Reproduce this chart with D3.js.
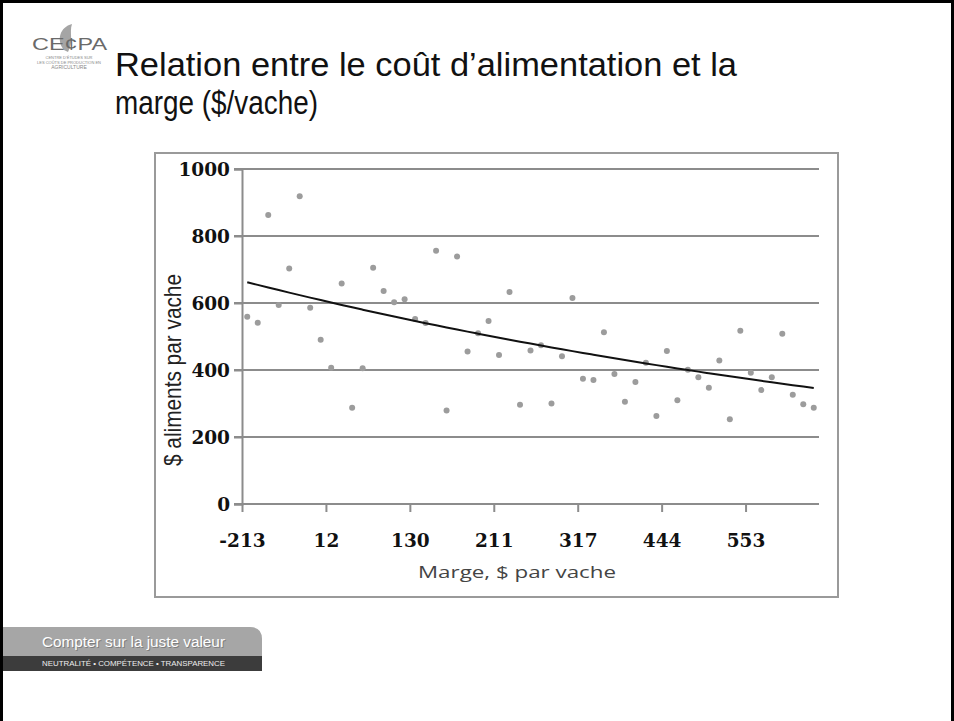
<!DOCTYPE html>
<html>
<head>
<meta charset="utf-8">
<script src="https://cdn.jsdelivr.net/npm/d3@7"></script>
<style>
  body { margin: 0; background: #fff; }
  svg { display: block; }
</style>
</head>
<body>
<svg id="slide" width="954" height="721"></svg>
<script>
// coût d'alimentation ($ par vache), une valeur par catégorie de marge (triée)
const coutAliments = [
  559, 541, 863, 594, 703, 919, 586, 490, 407, 658,
  287, 405, 705, 636, 602, 611, 552, 540, 756, 279,
  739, 455, 510, 546, 445, 633, 296, 458, 474, 300,
  441, 615, 374, 370, 513, 388, 305, 364, 422, 263,
  457, 310, 401, 378, 347, 428, 253, 517, 392, 340,
  378, 508, 326, 298, 287
];
// étiquettes affichées sur l'axe des marges et leur rang de catégorie
const margeLabels = ["-213", "12", "130", "211", "317", "444", "553"];
const margeLabelIndex = [0, 8, 16, 24, 32, 40, 48];
const yTicks = [0, 200, 400, 600, 800, 1000];
// courbe de tendance exponentielle : y = a * exp(b * rang)
const tendanceA = 662;
const tendanceB = -0.0120;

const svg = d3.select("#slide");

// cadre de la diapositive
svg.append("rect").attr("x", 0).attr("y", 0).attr("width", 954).attr("height", 3).attr("fill", "#000");
svg.append("rect").attr("x", 0).attr("y", 0).attr("width", 3).attr("height", 721).attr("fill", "#000");
svg.append("rect").attr("x", 951).attr("y", 0).attr("width", 3).attr("height", 721).attr("fill", "#000");

// logo
const logo = svg.append("g");
logo.append("path")
  .attr("d", "M64,50 C56,40 60,27 72,24 C69,33 74,40 68,52 Z")
  .attr("fill", "#a5a5a5");
logo.append("text").attr("x", 32).attr("y", 50)
  .attr("font-family", "'Liberation Sans', Arial, sans-serif")
  .attr("font-size", 16).attr("fill", "#6a6a6a")
  .attr("textLength", 75).attr("lengthAdjust", "spacingAndGlyphs")
  .text("CE¢PA");
["CENTRE D'ÉTUDES SUR", "LES COÛTS DE PRODUCTION EN", "AGRICULTURE"].forEach((t, i) => {
  logo.append("text").attr("x", 69).attr("y", 59 + i * 5)
    .attr("text-anchor", "middle")
    .attr("font-family", "'Liberation Sans', Arial, sans-serif")
    .attr("font-size", i === 2 ? 5 : 4).attr("fill", "#888")
    .text(t);
});

// titre
const titleFont = "'Liberation Sans Narrow', 'Liberation Sans', Arial, sans-serif";
svg.append("text").attr("x", 115).attr("y", 76)
  .attr("font-family", titleFont).attr("font-size", 33).attr("fill", "#111")
  .attr("textLength", 622).attr("lengthAdjust", "spacingAndGlyphs")
  .text("Relation entre le coût d’alimentation et la");
svg.append("text").attr("x", 115).attr("y", 114)
  .attr("font-family", titleFont).attr("font-size", 33).attr("fill", "#111")
  .attr("textLength", 203).attr("lengthAdjust", "spacingAndGlyphs")
  .text("marge ($/vache)");

// zone du graphique
svg.append("rect").attr("x", 155).attr("y", 153).attr("width", 683).attr("height", 444)
  .attr("fill", "#fff").attr("stroke", "#9a9a9a").attr("stroke-width", 2);

const plotLeft = 242, plotRight = 819, plotTop = 169, plotBottom = 504;
const n = coutAliments.length;
const x = d3.scaleLinear().domain([0, n]).range([plotLeft, plotRight]);
const y = d3.scaleLinear().domain([0, 1000]).range([plotBottom, plotTop]);

const g = svg.append("g");

// quadrillage horizontal
g.selectAll("line.grid").data(yTicks.filter(d => d > 0)).enter().append("line")
  .attr("class", "grid")
  .attr("x1", plotLeft - 8).attr("x2", plotRight)
  .attr("y1", d => y(d)).attr("y2", d => y(d))
  .attr("stroke", "#8c8c8c").attr("stroke-width", 2);

// axe vertical
const yAxis = g.append("g").attr("transform", `translate(${plotLeft},0)`)
  .call(d3.axisLeft(y).tickValues(yTicks).tickFormat(d3.format("d")).tickSize(8).tickPadding(4));
yAxis.select(".domain").attr("stroke", "#8c8c8c").attr("stroke-width", 2);
yAxis.selectAll(".tick line").attr("stroke", "#8c8c8c").attr("stroke-width", 2);
yAxis.selectAll(".tick text")
  .attr("dy", "0.36em")
  .attr("font-family", "'DejaVu Serif', 'Liberation Serif', serif")
  .attr("font-weight", "bold").attr("font-size", 18.5).attr("fill", "#111");

// axe horizontal (catégories de marge)
const xAxis = g.append("g").attr("transform", `translate(0,${plotBottom})`)
  .call(d3.axisBottom(x).tickValues(margeLabelIndex)
    .tickFormat((d, i) => margeLabels[i]).tickSizeInner(8).tickSizeOuter(0));
xAxis.select(".domain").attr("stroke", "#8c8c8c").attr("stroke-width", 2)
  .attr("d", `M${plotLeft - 8},0H${plotRight}`);
xAxis.selectAll(".tick line").attr("stroke", "#8c8c8c").attr("stroke-width", 2);
xAxis.selectAll(".tick text")
  .attr("y", 43).attr("dy", 0)
  .attr("font-family", "'DejaVu Serif', 'Liberation Serif', serif")
  .attr("font-weight", "bold").attr("font-size", 18.5).attr("fill", "#111");

// points
g.selectAll("circle.pt").data(coutAliments).enter().append("circle")
  .attr("class", "pt")
  .attr("cx", (d, i) => x(i + 0.5))
  .attr("cy", d => y(d))
  .attr("r", 3)
  .attr("fill", "#9c9c9c");

// courbe de tendance
const trend = coutAliments.map((d, i) => [i, tendanceA * Math.exp(tendanceB * i)]);
g.append("path").datum(trend)
  .attr("fill", "none").attr("stroke", "#111").attr("stroke-width", 2)
  .attr("d", d3.line().x(d => x(d[0] + 0.5)).y(d => y(d[1])).curve(d3.curveMonotoneX));

// titres des axes
svg.append("text")
  .attr("transform", "translate(181,370) rotate(-90)")
  .attr("text-anchor", "middle")
  .attr("font-family", titleFont).attr("font-size", 24).attr("fill", "#222")
  .attr("textLength", 192).attr("lengthAdjust", "spacingAndGlyphs")
  .text("$ aliments par vache");
svg.append("text")
  .attr("x", 517).attr("y", 578).attr("text-anchor", "middle")
  .attr("font-family", "'Open Sans', 'Liberation Sans', sans-serif")
  .attr("font-size", 17).attr("fill", "#444")
  .attr("textLength", 198).attr("lengthAdjust", "spacingAndGlyphs")
  .text("Marge, $ par vache");

// bandeau du bas
const foot = svg.append("g");
foot.append("path")
  .attr("d", "M3,627 H250 Q262,627 262,639 V656 H3 Z")
  .attr("fill", "#a6a6a6");
foot.append("rect").attr("x", 3).attr("y", 656).attr("width", 259).attr("height", 15).attr("fill", "#3c3c3c");
foot.append("text").attr("x", 43).attr("y", 648)
  .attr("font-family", "'Liberation Sans', Arial, sans-serif")
  .attr("font-size", 14).attr("fill", "#555").attr("opacity", 0.5)
  .attr("textLength", 183).attr("lengthAdjust", "spacingAndGlyphs")
  .text("Compter sur la juste valeur");
foot.append("text").attr("x", 42).attr("y", 647)
  .attr("font-family", "'Liberation Sans', Arial, sans-serif")
  .attr("font-size", 14).attr("fill", "#fff")
  .attr("textLength", 183).attr("lengthAdjust", "spacingAndGlyphs")
  .text("Compter sur la juste valeur");
foot.append("text").attr("x", 42).attr("y", 666)
  .attr("font-family", "'Liberation Sans', Arial, sans-serif")
  .attr("font-size", 6.5).attr("fill", "#eee")
  .attr("textLength", 183).attr("lengthAdjust", "spacingAndGlyphs")
  .text("NEUTRALITÉ • COMPÉTENCE • TRANSPARENCE");
</script>
</body>
</html>
